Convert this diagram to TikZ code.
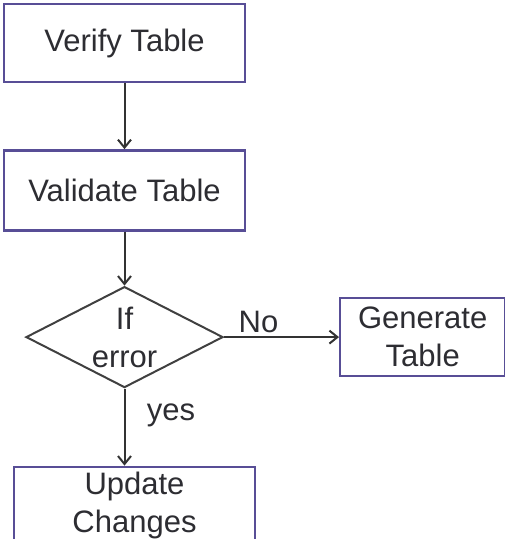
\documentclass[tikz,border=0pt]{standalone}
\usepackage{fontspec}
\setmainfont{Liberation Sans}
\usetikzlibrary{arrows.meta, positioning, shapes.geometric}
\definecolor{colorBox}{RGB}{88,78,150}
\definecolor{colorText}{RGB}{45,45,50}
\tikzset{
  box/.style={draw=colorBox, line width=2.4pt, fill=white, text=colorText, align=center, inner sep=0pt},
  decision/.style={diamond, draw=black!75, line width=2pt, minimum width=197pt, minimum height=101pt, inner sep=0pt},
  flow/.style={->, draw=black!80, line width=2pt},
}

\begin{document}
\begin{tikzpicture}[>={Straight Barb[length=8pt,width=13pt]}, font=\fontsize{31}{38}\selectfont, node distance=66pt]
\useasboundingbox (0,0) rectangle (505pt,-539pt);
\node[box, minimum width=241pt, minimum height=78pt] (verify) at (124.5pt,-43pt) {Verify Table};
\node[box, minimum width=241pt, minimum height=80pt, below=66pt of verify] (validate) {Validate Table};
\node[decision, below=54pt of validate, label={[align=center, text=colorText]center:If\\error}] (iferror) {};
\node[box, minimum width=165pt, minimum height=78pt, right=115pt of iferror] (generate) {Generate\\Table};
\node[box, minimum width=241pt, minimum height=78pt, below=77pt of iferror, xshift=10pt] (update) {Update\\Changes};
\draw[flow] (verify) -- (validate);
\draw[flow] (validate) -- (iferror);
\draw[flow] (iferror) -- node[pos=0.3, above=0pt, text=colorText]{No} (generate);
\draw[flow] (iferror.south) -- node[pos=0.35, right=18pt, text=colorText]{yes} (iferror.south |- update.north);
\end{tikzpicture}
\end{document}
